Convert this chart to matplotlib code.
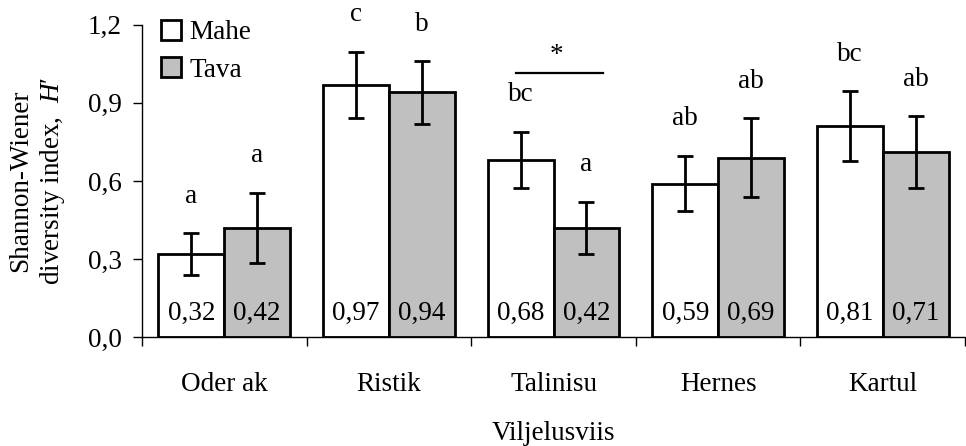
import numpy as np
import matplotlib.pyplot as plt
from matplotlib.patches import Patch

plt.rcParams['font.family'] = 'Liberation Serif'
plt.rcParams['mathtext.fontset'] = 'custom'
plt.rcParams['mathtext.rm'] = 'Liberation Serif'
plt.rcParams['mathtext.it'] = 'Liberation Serif:italic'
plt.rcParams['font.size'] = 19.5

# H' means and standard errors per crop
crops = ['Oder ak', 'Ristik', 'Talinisu', 'Hernes', 'Kartul']
mahe = [0.32, 0.97, 0.68, 0.59, 0.81]
tava = [0.42, 0.94, 0.42, 0.69, 0.71]
mahe_err = [0.08, 0.127, 0.108, 0.107, 0.135]
tava_err = [0.135, 0.12, 0.10, 0.15, 0.138]
mahe_letters = ['a', 'c', 'bc', 'ab', 'bc']
tava_letters = ['a', 'b', 'a', 'ab', 'ab']
yticks = [0.0, 0.3, 0.6, 0.9, 1.2]
ytick_labels = ['0,0', '0,3', '0,6', '0,9', '1,2']

x = np.arange(len(crops))
w = 0.4
fig = plt.figure(figsize=(9.66, 4.46), dpi=100)
ax = fig.add_axes([0.147, 0.2437, 0.852, 0.7009])

err_kw = dict(ecolor='black', elinewidth=2, capsize=5.5, capthick=2)
ax.bar(x - w/2, mahe, w, yerr=mahe_err, color='white', edgecolor='black',
       linewidth=2, error_kw=err_kw, zorder=2)
ax.bar(x + w/2, tava, w, yerr=tava_err, color='#c0c0c0', edgecolor='black',
       linewidth=2, error_kw=err_kw, zorder=2)

def fmt(v):
    return f'{v:.2f}'.replace('.', ',')

for xs, vals, errs, letters in [(x - w/2, mahe, mahe_err, mahe_letters),
                                (x + w/2, tava, tava_err, tava_letters)]:
    for xi, v, e, lt in zip(xs, vals, errs, letters):
        ax.text(xi, 0.068, fmt(v), ha='center', va='baseline', zorder=3)
        ax.annotate(lt, (xi, v + e), xytext=(0, 22), textcoords='offset points',
                    ha='center', va='baseline')

# significance marker for Talinisu
ax.plot([1.77, 2.30], [1.016, 1.016], color='black', lw=1.6)
ax.text(2.02, 1.055, '*', ha='center', va='baseline')

ax.set_xlim(-0.5, len(crops) - 0.5)
ax.set_ylim(0, 1.2)
ax.set_yticks(yticks)
ax.set_yticklabels(ytick_labels)
ax.set_xticks(x)
ax.set_xticklabels(crops)
ax.set_xticks(np.arange(len(crops) + 1) - 0.5, minor=True)
ax.tick_params(axis='x', which='major', length=0, pad=25)
ax.tick_params(axis='x', which='minor', length=6.5, width=1)
ax.tick_params(axis='y', length=6.5, width=1, pad=8)
for s in ['top', 'right']:
    ax.spines[s].set_visible(False)
for s in ['left', 'bottom']:
    ax.spines[s].set_linewidth(1)

ax.set_xlabel('Viljelusviis', labelpad=17)
ax.set_ylabel("Shannon-Wiener\ndiversity index,  $H$\u2032", linespacing=1.25, labelpad=15)

handles = [Patch(facecolor='white', edgecolor='black', linewidth=2),
           Patch(facecolor='#c0c0c0', edgecolor='black', linewidth=2)]
ax.legend(handles, ['Mahe', 'Tava'], loc='upper left', bbox_to_anchor=(0.01, 1.05),
          frameon=False, handlelength=0.75, handleheight=0.75, handletextpad=0.3,
          labelspacing=0.45, borderaxespad=0)

fig.savefig('out.png', dpi=100)
